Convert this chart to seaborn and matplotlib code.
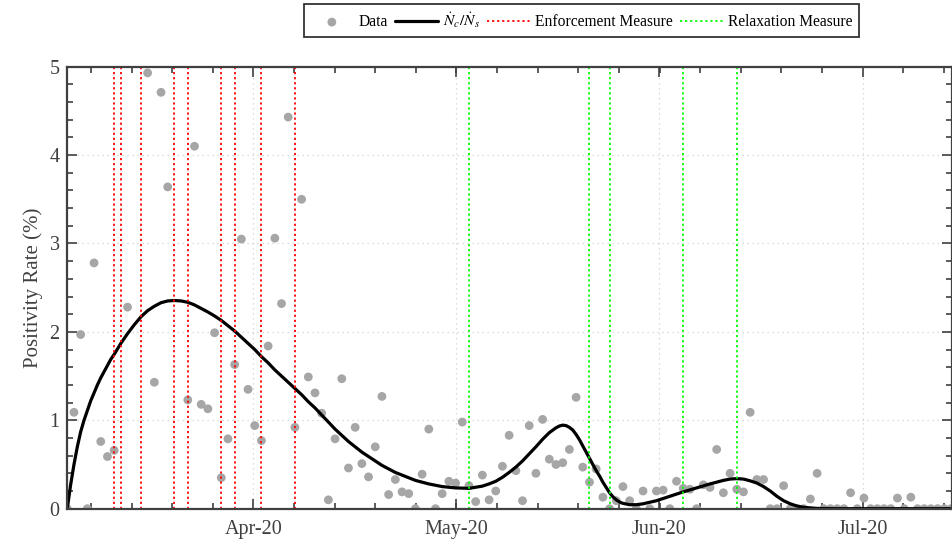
import numpy as np
import pandas as pd
import matplotlib
matplotlib.use("Agg")
import matplotlib.pyplot as plt
import seaborn as sns
from matplotlib.ticker import FixedLocator

# Daily positivity rate (%) by day index since the start of the series
data_day = [0, 1, 2, 3, 4, 5, 6, 7, 9, 12, 13, 14, 15, 18, 19, 20, 21, 22, 23, 24,
            25, 26, 27, 28, 29, 30, 31, 32, 33, 34, 35, 36, 37, 38, 39, 40, 41, 42, 43, 44,
            45, 46, 47, 48, 49, 50, 51, 52, 53, 54, 55, 56, 57, 58, 59, 60, 61, 62, 63, 64,
            65, 66, 67, 68, 69, 70, 71, 72, 73, 74, 75, 76, 77, 78, 79, 80, 81, 82, 83, 84,
            85, 86, 87, 88, 89, 90, 91, 92, 93, 94, 95, 96, 97, 98, 99, 100, 101, 102, 103, 104,
            105, 106, 107, 108, 109, 110, 111, 112, 113, 114, 115, 116, 117, 118, 119, 120, 121, 122, 123, 124,
            125, 126, 127, 128, 129, 130, 131, 132]
data_rate = [0.00, 1.09, 1.97, 0.00, 2.78, 0.76, 0.59, 0.66, 2.28, 4.93, 1.43, 4.71, 3.64, 1.23, 4.10, 1.18, 1.13, 1.99, 0.35, 0.79,
             1.63, 3.05, 1.35, 0.94, 0.77, 1.84, 3.06, 2.32, 4.43, 0.92, 3.50, 1.49, 1.31, 1.08, 0.10, 0.79, 1.47, 0.46, 0.92, 0.51,
             0.36, 0.70, 1.27, 0.16, 0.33, 0.19, 0.17, 0.00, 0.39, 0.90, 0.00, 0.17, 0.31, 0.29, 0.98, 0.26, 0.08, 0.38, 0.10, 0.20,
             0.48, 0.83, 0.43, 0.09, 0.94, 0.40, 1.01, 0.56, 0.50, 0.52, 0.67, 1.26, 0.47, 0.30, 0.45, 0.13, 0.00, 0.09, 0.25, 0.09,
             0.00, 0.20, 0.00, 0.20, 0.21, 0.00, 0.31, 0.23, 0.22, 0.00, 0.27, 0.24, 0.67, 0.18, 0.40, 0.22, 0.19, 1.09, 0.33, 0.33,
             0.00, 0.00, 0.26, 0.00, 0.00, 0.00, 0.11, 0.40, 0.00, 0.00, 0.00, 0.00, 0.18, 0.00, 0.12, 0.00, 0.00, 0.00, 0.00, 0.12,
             0.00, 0.13, 0.00, 0.00, 0.00, 0.00, 0.00, 0.00]

# Model ratio of new confirmed cases to new tests
model_day = [0, 0.5, 1, 1.5, 2, 2.5, 3, 3.5, 4, 4.5, 5, 5.5, 6, 6.5, 7, 8, 9, 10, 11, 12,
             13, 14, 15, 16, 17, 18, 19, 20, 21, 22, 23, 24, 25, 26, 27, 28, 29, 30, 31, 32,
             33, 34, 35, 36, 37, 38, 39, 40, 41, 42, 43, 44, 45, 46, 47, 48, 49, 50, 52, 54,
             56, 58, 60, 62, 63, 64, 65, 66, 67, 68, 69, 70, 71, 72, 73, 73.5, 74, 74.5, 75, 75.5,
             76, 76.5, 77, 77.5, 78, 78.5, 79, 79.5, 80, 80.5, 81, 81.5, 82, 82.5, 83, 84, 85, 86,
             88, 90, 92, 94, 96, 98, 99, 100, 101, 102, 103, 104, 105, 106, 107, 108, 109, 110,
             112, 115, 132]
model_rate = [0.00, 0.27, 0.50, 0.70, 0.87, 1.00, 1.11, 1.22, 1.31, 1.40, 1.48, 1.55, 1.62, 1.69, 1.745, 1.87, 1.98, 2.08, 2.17, 2.24,
              2.29, 2.33, 2.35, 2.355, 2.35, 2.335, 2.305, 2.265, 2.225, 2.18, 2.13, 2.07, 2.01, 1.94, 1.87, 1.80, 1.72, 1.65, 1.57, 1.50,
              1.43, 1.36, 1.29, 1.21, 1.14, 1.06, 0.98, 0.90, 0.83, 0.76, 0.70, 0.64, 0.59, 0.54, 0.49, 0.45, 0.41, 0.38, 0.32, 0.28,
              0.25, 0.235, 0.23, 0.255, 0.28, 0.31, 0.355, 0.41, 0.47, 0.54, 0.62, 0.70, 0.785, 0.86, 0.915, 0.935, 0.945, 0.94, 0.92, 0.89,
              0.84, 0.78, 0.71, 0.64, 0.57, 0.50, 0.43, 0.37, 0.30, 0.24, 0.18, 0.135, 0.10, 0.075, 0.06, 0.045, 0.045, 0.055,
              0.09, 0.14, 0.19, 0.235, 0.28, 0.32, 0.335, 0.34, 0.335, 0.315, 0.29, 0.25, 0.20, 0.14, 0.09, 0.055, 0.03, 0.015,
              0.003, 0.0, 0.0]

# Days on which measures were introduced
enforcement_days = [7, 8, 11, 16, 18, 23, 25, 29, 34]
relaxation_days = [60, 78, 81, 92, 100]

month_ticks = [27.8, 58.1, 88.4, 118.8]
month_labels = ["Apr-20", "May-20", "Jun-20", "Jul-20"]

sns.set_theme(style="ticks")
plt.rcParams["font.family"] = ["Liberation Serif", "DejaVu Serif"]
plt.rcParams["mathtext.fontset"] = "stix"

axis_grey = "#404040"

fig = plt.figure(figsize=(9.53, 5.40), dpi=100)
ax = fig.add_axes([0.0706, 0.058, 0.9280, 0.8185])

ax.grid(True, which="major", linestyle=(0, (1, 3)), color="#d0d0d0", linewidth=0.9)
ax.set_axisbelow(True)

df_data = pd.DataFrame({"day": data_day, "rate": data_rate})
df_model = pd.DataFrame({"day": model_day, "rate": model_rate})

sns.scatterplot(data=df_data, x="day", y="rate", ax=ax, color="#a6a6a6", s=40,
                edgecolor="none", label="Data", zorder=3)
sns.lineplot(data=df_model, x="day", y="rate", ax=ax, color="black", linewidth=2.3,
             label=r"$\dot{N}_c/\dot{N}_s$", zorder=4, sort=False)

for i, d in enumerate(enforcement_days):
    ax.axvline(d, color="#ff0000", linestyle=(0, (1.2, 1.6)), linewidth=1.3, zorder=5,
               label="Enforcement Measure" if i == 0 else None)
for i, d in enumerate(relaxation_days):
    ax.axvline(d, color="#00ff00", linestyle=(0, (1.2, 1.6)), linewidth=1.3, zorder=5,
               label="Relaxation Measure" if i == 0 else None)

ax.set_xlim(0, 132.1)
ax.set_ylim(0, 5)

ax.xaxis.set_major_locator(FixedLocator(month_ticks))
ax.set_xticklabels(month_labels)
step = (month_ticks[-1] - month_ticks[0]) / (len(month_ticks) - 1) / 5
minor_x = np.arange(month_ticks[0] - 4 * step, 132.1, step)
ax.xaxis.set_minor_locator(FixedLocator(minor_x))
ax.yaxis.set_major_locator(FixedLocator([0, 1, 2, 3, 4, 5]))
ax.yaxis.set_minor_locator(FixedLocator(np.arange(0, 5.01, 0.2)))

ax.tick_params(which="both", direction="in", top=True, right=True,
               color=axis_grey, labelcolor=axis_grey, labelsize=14.5, width=1.2)
ax.tick_params(which="major", length=7)
ax.tick_params(which="minor", length=4)
ax.tick_params(axis="x", which="major", pad=8)
ax.tick_params(axis="y", which="major", pad=5.5)

for sp in ax.spines.values():
    sp.set_color(axis_grey)
    sp.set_linewidth(1.6)
    sp.set_visible(True)
    sp.set_zorder(6)

ax.set_xlabel("")
ax.set_ylabel("Positivity Rate (%)", fontsize=15, color=axis_grey, labelpad=5)

leg = ax.legend(loc="center", bbox_to_anchor=(0.5814, 1.1045), ncol=4, frameon=True,
                fancybox=False, edgecolor="black", fontsize=11.2, handlelength=2.8,
                handletextpad=0.3, columnspacing=0.45, borderpad=0.4, borderaxespad=0)
leg.get_frame().set_linewidth(1.3)
for t in leg.get_texts():
    t.set_color("black")

fig.savefig("out.png", dpi=100)
